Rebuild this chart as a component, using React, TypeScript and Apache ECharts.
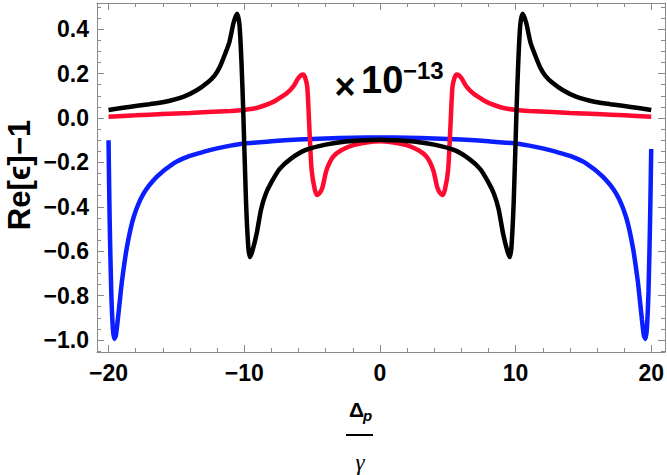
import React, { useEffect, useRef } from 'react';
import * as echarts from 'echarts';

// ---- data ----
const xMajorTicks = [-20, -10, 0, 10, 20];
const xMinorTicks = [-20, -18, -16, -14, -12, -10, -8, -6, -4, -2, 0, 2, 4, 6, 8, 10, 12, 14, 16, 18, 20];
const yMajorTicks = [-1.0, -0.8, -0.6, -0.4, -0.2, 0.0, 0.2, 0.4];
const yMinorTicks = [
  -1.05, -1.0, -0.95, -0.9, -0.85, -0.8, -0.75, -0.7, -0.65, -0.6, -0.55, -0.5, -0.45, -0.4, -0.35, -0.3,
  -0.25, -0.2, -0.15, -0.1, -0.05, 0.0, 0.05, 0.1, 0.15, 0.2, 0.25, 0.3, 0.35, 0.4, 0.45, 0.5,
];

const blackCurve: [number, number][] = [
  [-20, 0.036], [-18.5, 0.05], [-17, 0.062], [-15.9, 0.072], [-14.5, 0.095], [-13.5, 0.125], [-12.7, 0.16],
  [-12.2, 0.19], [-11.8, 0.23], [-11.4, 0.29], [-11.1, 0.34], [-10.78, 0.43], [-10.53, 0.47], [-10.35, 0.42],
  [-10.2, 0.25], [-10.07, 0.03], [-9.87, -0.37], [-9.7, -0.58], [-9.58, -0.626], [-9.4, -0.6], [-9.08, -0.52],
  [-8.75, -0.41], [-8.4, -0.34], [-8.0, -0.29], [-7.4, -0.23], [-6.6, -0.185], [-5.5, -0.145], [-4.0, -0.12],
  [-2.5, -0.106], [-1.0, -0.1], [0, -0.098],
  [1.0, -0.1], [2.5, -0.106], [4.0, -0.12], [5.5, -0.145], [6.6, -0.185], [7.4, -0.23], [8.0, -0.29],
  [8.4, -0.34], [8.75, -0.41], [9.08, -0.52], [9.4, -0.6], [9.58, -0.626], [9.7, -0.58], [9.87, -0.37],
  [10.07, 0.03], [10.2, 0.25], [10.35, 0.42], [10.53, 0.47], [10.78, 0.43], [11.1, 0.34], [11.4, 0.29],
  [11.8, 0.23], [12.2, 0.19], [12.7, 0.16], [13.5, 0.125], [14.5, 0.095], [15.9, 0.072], [17, 0.062],
  [18.5, 0.05], [20, 0.036],
];

const redCurve: [number, number][] = [
  [-20, 0.006], [-18, 0.012], [-16, 0.018], [-14, 0.023], [-12.7, 0.027], [-11, 0.032], [-10.1, 0.036],
  [-9.1, 0.045], [-8.1, 0.066], [-7.61, 0.081], [-6.87, 0.111], [-6.39, 0.141], [-6.02, 0.179], [-5.8, 0.193],
  [-5.65, 0.196], [-5.5, 0.18], [-5.35, 0.14], [-5.2, -0.04], [-5.03, -0.234], [-4.79, -0.324], [-4.6, -0.347],
  [-4.4, -0.335], [-4.22, -0.31], [-3.93, -0.234], [-3.44, -0.174], [-2.82, -0.144], [-1.96, -0.122],
  [-1.0, -0.11], [0, -0.105],
  [1.0, -0.11], [1.96, -0.122], [2.82, -0.144], [3.44, -0.174], [3.93, -0.234], [4.22, -0.31], [4.4, -0.335],
  [4.6, -0.347], [4.79, -0.324], [5.03, -0.234], [5.2, -0.04], [5.35, 0.14], [5.5, 0.18], [5.65, 0.196],
  [5.8, 0.193], [6.02, 0.179], [6.39, 0.141], [6.87, 0.111], [7.61, 0.081], [8.1, 0.066], [9.1, 0.045],
  [10.1, 0.036], [11, 0.032], [12.7, 0.027], [14, 0.023], [16, 0.018], [18, 0.012], [20, 0.006],
];

const blueCurve: [number, number][] = [
  [-20, -0.1], [-19.92, -0.45], [-19.8, -0.78], [-19.68, -0.95], [-19.58, -0.995], [-19.46, -0.98],
  [-19.32, -0.91], [-19.18, -0.83], [-19.0, -0.73], [-18.64, -0.58], [-18.14, -0.445], [-17.41, -0.34],
  [-16.43, -0.264], [-15.2, -0.204], [-14.2, -0.175], [-13.3, -0.158], [-12, -0.137], [-10.3, -0.117],
  [-8, -0.105], [-6, -0.097], [-4, -0.092], [-2, -0.089], [0, -0.088],
  [2, -0.089], [4, -0.092], [6, -0.097], [8, -0.105], [10.3, -0.117], [12, -0.137], [13.3, -0.158],
  [14.2, -0.175], [15.2, -0.204], [16.43, -0.264], [17.41, -0.34], [18.14, -0.445], [18.64, -0.58],
  [19.0, -0.73], [19.18, -0.83], [19.32, -0.91], [19.46, -0.98], [19.58, -0.995], [19.68, -0.95],
  [19.8, -0.78], [19.92, -0.45], [20, -0.14],
];

// ---- layout / style ----
const X_MIN = -20.85;
const X_MAX = 21.0;
const Y_MIN = -1.054;
const Y_MAX = 0.518;
const GRID = { left: 97, right: 2, top: 3, bottom: 123 };
const FRAME = '#8a8a8a';
const SANS = 'Liberation Sans, Arial, sans-serif';
const LABEL_FONT = { fontSize: 23, fontWeight: 'bold' as const, color: '#000', fontFamily: SANS };

const fmtX = (v: number) => String(Math.round(v)).replace('-', '\u2212');
const fmtY = (v: number) => (Math.abs(v) < 1e-9 ? '0.0' : v.toFixed(1).replace('-', '\u2212'));

function xAxis(gridIndex: number, position: string, ticks: number[], len: number, labels: boolean, line: boolean) {
  return {
    type: 'value', gridIndex, position, min: X_MIN, max: X_MAX,
    axisLine: { show: line, onZero: false, lineStyle: { color: FRAME, width: 1 } },
    axisTick: { show: true, inside: true, length: len, customValues: ticks, lineStyle: { color: FRAME, width: 1 } },
    axisLabel: labels
      ? { show: true, customValues: ticks, formatter: fmtX, margin: 9, ...LABEL_FONT }
      : { show: false },
    splitLine: { show: false },
  };
}
function yAxis(gridIndex: number, position: string, ticks: number[], len: number, labels: boolean, line: boolean) {
  return {
    type: 'value', gridIndex, position, min: Y_MIN, max: Y_MAX,
    axisLine: { show: line, onZero: false, lineStyle: { color: FRAME, width: 1 } },
    axisTick: { show: true, inside: true, length: len, customValues: ticks, lineStyle: { color: FRAME, width: 1 } },
    axisLabel: labels
      ? { show: true, customValues: ticks, formatter: fmtY, margin: 8, ...LABEL_FONT }
      : { show: false },
    splitLine: { show: false },
  };
}

const txt = (x: number, y: number, text: string, extra: Record<string, unknown>, align = 'left') => ({
  type: 'text', x, y,
  style: {
    text, fill: '#000', fontFamily: SANS,
    align, verticalAlign: 'middle', textAlign: align, textVerticalAlign: 'middle',
    ...extra,
  },
});

export default function App() {
  const ref = useRef<HTMLDivElement>(null);
  useEffect(() => {
    if (!ref.current) return;
    const chart = echarts.init(ref.current, undefined, { renderer: 'svg' });
    const line = (data: [number, number][], color: string) => ({
      type: 'line', xAxisIndex: 0, yAxisIndex: 0, data, showSymbol: false, symbol: 'none',
      smooth: 0.25, lineStyle: { color, width: 4.5 }, itemStyle: { color }, clip: true,
    });
    chart.setOption({
      animation: false,
      backgroundColor: '#fff',
      grid: [GRID, GRID, GRID, GRID].map((g) => ({ ...g, containLabel: false })),
      xAxis: [
        xAxis(0, 'bottom', xMajorTicks, 7, true, true),
        xAxis(1, 'bottom', xMinorTicks, 4, false, false),
        xAxis(2, 'top', xMajorTicks, 7, false, true),
        xAxis(3, 'top', xMinorTicks, 4, false, false),
      ],
      yAxis: [
        yAxis(0, 'left', yMajorTicks, 7, true, true),
        yAxis(1, 'left', yMinorTicks, 4, false, false),
        yAxis(2, 'right', yMajorTicks, 7, false, true),
        yAxis(3, 'right', yMinorTicks, 4, false, false),
      ],
      series: [
        line(blueCurve, '#0a1eff'),
        line(redCurve, '#ff0a30'),
        line(blackCurve, '#000000'),
      ],
      graphic: [
        {
          type: 'text', x: 19, y: 175, rotation: Math.PI / 2,
          style: {
            text: 'Re[\u03F5]\u22121', fontSize: 31, fontWeight: 'bold', fontFamily: SANS,
            fill: '#000', align: 'center', verticalAlign: 'middle', textAlign: 'center', textVerticalAlign: 'middle',
          },
        },
        txt(345, 86, '\u00D7', { fontSize: 36, fontWeight: 'bold' }, 'center'),
        txt(361, 80, '10', { fontSize: 38, fontWeight: 'bold' }),
        txt(403, 70, '\u221213', { fontSize: 24, fontWeight: 'bold' }),
        txt(349, 409, '\u0394', { fontSize: 21, fontWeight: 'bold' }),
        txt(363, 415, 'p', { fontSize: 15, fontWeight: 'bold', fontStyle: 'italic' }),
        {
          type: 'line', shape: { x1: 346, y1: 435, x2: 373, y2: 435 },
          style: { stroke: '#000', lineWidth: 2 },
        },
        txt(360, 462, '\u03B3', { fontSize: 23, fontStyle: 'italic', fontFamily: 'Liberation Serif, Times New Roman, serif' }, 'center'),
      ],
    });
    return () => chart.dispose();
  }, []);
  return <div ref={ref} style={{ position: 'fixed', left: 0, top: 0, width: 667, height: 475, background: '#fff' }} />;
}
